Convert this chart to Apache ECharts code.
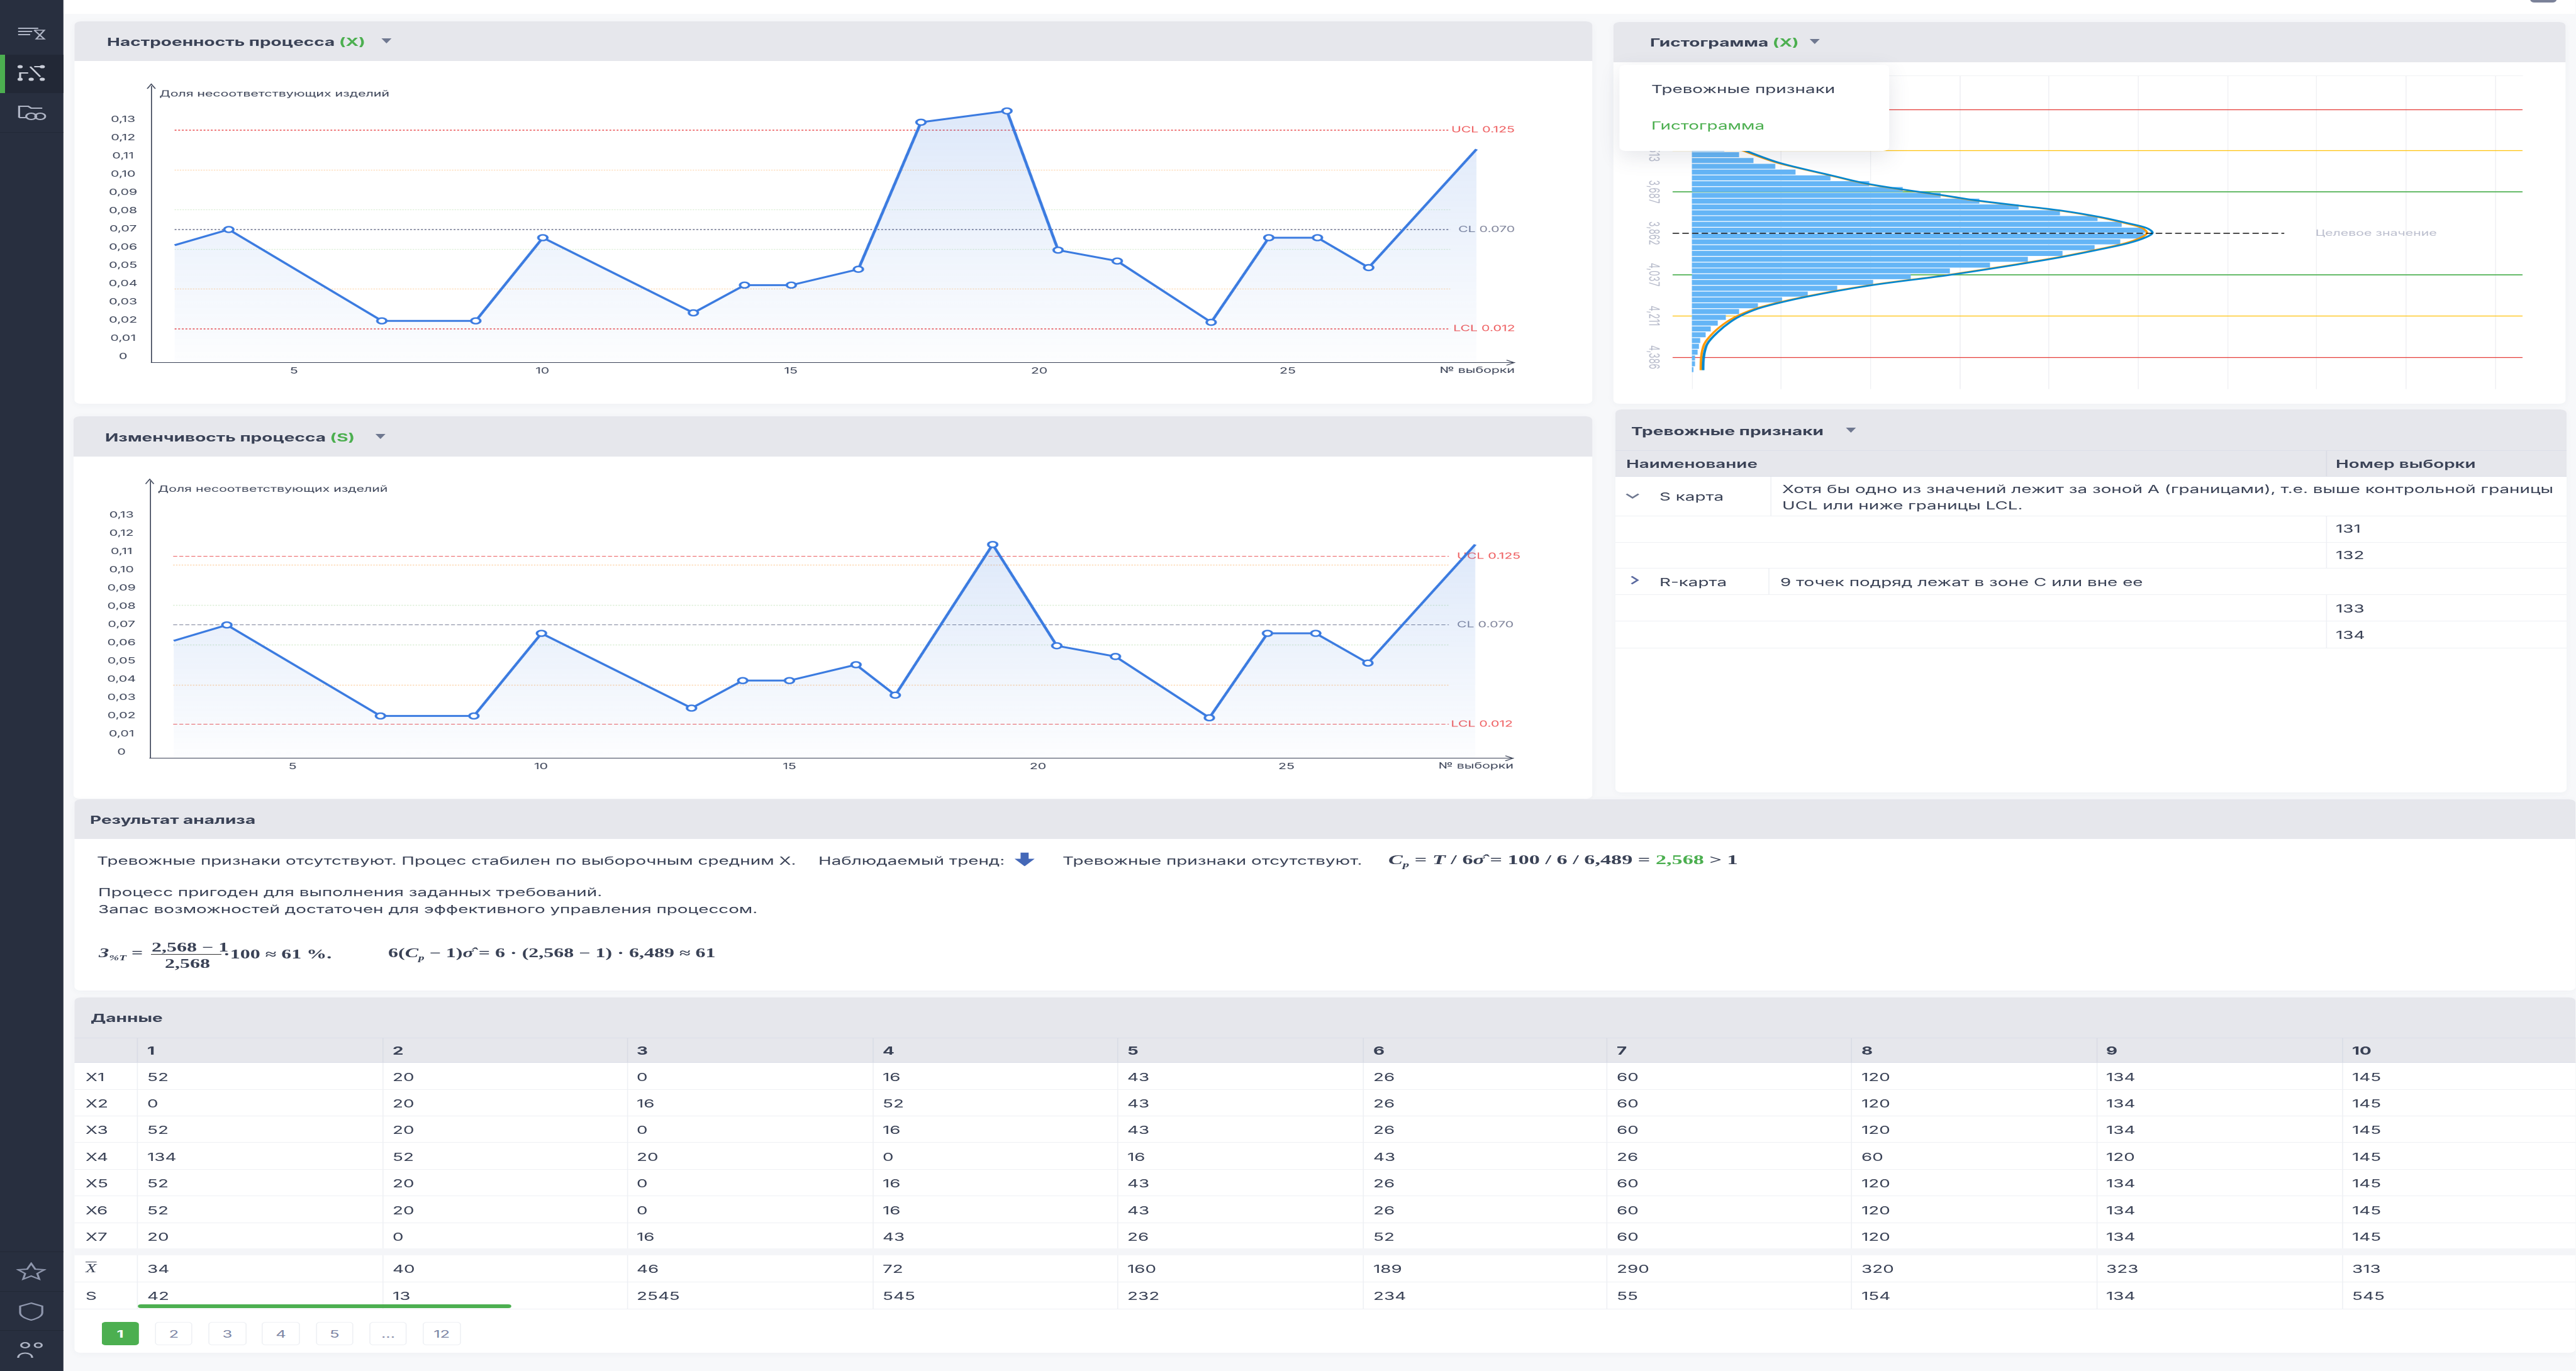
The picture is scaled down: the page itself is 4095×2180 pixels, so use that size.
<!DOCTYPE html>
<html lang="ru"><head><meta charset="utf-8"><title>Контрольные карты</title>
<script src="https://cdn.jsdelivr.net/npm/echarts@6/dist/echarts.min.js"></script>
<style>
html,body{margin:0;padding:0;width:4095px;height:2180px;overflow:hidden;background:#f7f8fa}
#page{position:absolute;left:0;top:0;height:2180px;transform-origin:0 0;font-family:Inter,"Noto Sans",sans-serif;color:#3a4256;font-size:17.4px;overflow:hidden}
#chart{position:absolute;left:0;top:0;width:100%;height:2180px;z-index:2}
.b{position:absolute;box-sizing:border-box}
.t{position:absolute;white-space:nowrap;transform:translateY(-50%);line-height:1.2}
.layer{position:absolute;left:0;top:0;width:100%;height:100%}
</style></head><body><div id="page"><div id="under" class="layer" style="z-index:1"></div><div id="chart"></div><div id="over" class="layer" style="z-index:3;pointer-events:none"></div></div>
<script>
// ---------- chart data ----------
const sampleTicks=[5,10,15,20,25];
const shareTicks=[0,0.01,0.02,0.03,0.04,0.05,0.06,0.07,0.08,0.09,0.10,0.11,0.12,0.13];
const setupX=[2.6,3.69,6.77,8.66,10.01,13.04,14.07,15.01,16.36,17.62,19.35,20.38,21.57,23.46,24.62,25.6,26.63,28.8];
const setupY=[0.0611,0.0697,0.0196,0.0196,0.0652,0.0240,0.0392,0.0392,0.0479,0.1285,0.1347,0.0584,0.0524,0.0188,0.0652,0.0652,0.0488,0.1137];
const varX=[2.61,3.68,6.77,8.65,10.01,13.03,14.06,15.0,16.34,17.13,19.09,20.38,21.56,23.45,24.62,25.59,26.64,28.8];
const varY=[0.0611,0.0698,0.0199,0.0199,0.0652,0.0242,0.0393,0.0393,0.0480,0.0313,0.1139,0.0584,0.0525,0.0189,0.0652,0.0652,0.0489,0.1139];
const setupLevels=[0.1243,0.1024,0.0806,0.0697,0.0588,0.0370,0.0153];
const varLevels=[0.1074,0.1026,0.0807,0.0698,0.0589,0.0370,0.0154];
const levelNames=['UCL 0.125','','','CL 0.070','','','LCL 0.012'];
const histBars=[0.2,0.36,0.36,0.65,0.8,0.95,1.55,2.1,2.9,3.63,5.29,6.91,9.35,11.62,15.54,19.89,23.63,27.88,32.23,36.62,41.26,45.47,48.17,50.79,50.72,48.02,45.14,41.55,37.66,33.42,28.92,24.53,20.32,16.29,12.99,10.11,7.41,5.29,3.81,2.91,2.12,1.55,0.94,0.79,0.65,0.36,0.36,0.18];
const histTicks=[3.338,3.513,3.687,3.862,4.037,4.211,4.386];
const histLimits=[3.338,3.513,3.687,4.037,4.211,4.386];
const histLimitColors=['#e53935','#ffc107','#66bb6a','#66bb6a','#ffc107','#e53935'];
const histTarget=3.862;
const histGrid=[0,10,20,30,40,50,60,70,80,90];
const curveBlueX=[1.26,1.33,1.73,2.88,3.96,6.12,9.35,11.51,15.47,20.14,28.78,31.65,36.69,41.55,45.68,48.92,50.9,51.62,50.9,48.92,45.68,41.55,36.69,28.78,20.14,12.95,7.91,5.76,4.32,2.88,1.73,1.33,1.26];
const curveBlueY=[3.279,3.332,3.390,3.439,3.479,3.514,3.559,3.581,3.616,3.656,3.705,3.722,3.745,3.767,3.793,3.820,3.839,3.860,3.879,3.904,3.931,3.962,3.993,4.039,4.082,4.130,4.175,4.206,4.237,4.281,4.330,4.387,4.441];
const curveOrangeX=[1.0,1.05,1.4,2.5,3.6,5.8,9.1,11.3,15.3,19.9,28.5,31.4,36.4,41.3,45.4,48.6,50.4,51.0,50.4,48.6,45.4,41.3,36.4,28.5,19.9,12.7,7.6,5.4,3.9,2.45,1.4,1.05,1.0];
// ---------- table data ----------
const dataCols=['1','2','3','4','5','6','7','8','9','10'];
const rowX1=[52,20,0,16,43,26,60,120,134,145];
const rowX2=[0,20,16,52,43,26,60,120,134,145];
const rowX3=[52,20,0,16,43,26,60,120,134,145];
const rowX4=[134,52,20,0,16,43,26,60,120,145];
const rowX5=[52,20,0,16,43,26,60,120,134,145];
const rowX6=[52,20,0,16,43,26,60,120,134,145];
const rowX7=[20,0,16,43,26,52,60,120,134,145];
const rowMean=[34,40,46,72,160,189,290,320,323,313];
const rowS=[42,13,2545,545,232,234,55,154,134,545];
const pages=['1','2','3','4','5','...','12'];

// ---------- page frame ----------
const K=1.6, W=4095/K;
const page=document.getElementById('page');
page.style.width=W+'px'; page.style.transform='scaleX('+K+')';
const under=document.getElementById('under'), over=document.getElementById('over');
function box(p,x0,y0,x1,y1,css){const d=document.createElement('div');d.className='b';
 d.style.cssText='left:'+x0/K+'px;top:'+y0+'px;width:'+(x1-x0)/K+'px;height:'+(y1-y0)+'px;'+(css||'');p.appendChild(d);return d;}
function txt(p,x,y,h,css){const d=document.createElement('div');d.className='t';
 d.style.cssText='left:'+x/K+'px;top:'+y+'px;'+(css||'');d.innerHTML=h;p.appendChild(d);return d;}
const HEAD='#e6e7ec', BOLD='font-weight:600;', GREEN='#4caf50';
function tri(p,x,y){const d=box(p,x-8,y-4,x+8,y+4,'');d.style.cssText+='width:0;height:0;border-left:5.2px solid transparent;border-right:5.2px solid transparent;border-top:8px solid #6f7890;';}
function panel(x0,y0,yh,y1,x1,title,tx,ty,tr){
 box(under,x0,y0,x1,y1,'background:#fff;border-radius:6px;box-shadow:0 2px 8px rgba(60,70,100,.04)');
 box(under,x0,y0,x1,yh,'background:'+HEAD+';border-radius:6px 6px 0 0');
 txt(over,tx,ty,title,'font-weight:700;font-size:17.5px;color:#3a4256');
 if(tr) tri(over,tr,ty-1);
}
// sidebar + top strip
box(under,0,0,4095,22,'background:#fff');
box(under,0,0,101,2180,'background:#282f3f');
box(under,0,87,101,148,'background:#222836');
box(under,0,87,8,148,'background:'+GREEN);
box(under,0,210,101,211,'background:#222836');
box(under,0,1990,101,1991,'background:#222836');
box(under,0,2053,101,2054,'background:#222836');
box(under,0,2115,101,2116,'background:#222836');
box(under,4022,0,4064,4,'background:#7b8299;border-radius:0 0 4px 4px');
const sideIcons=[
 [50,55,'<path d="M2 5H22M2 10H16M2 15H14" stroke="#aeb4c4" stroke-width="2"/><path d="M18 8H28L20 22H28L18 8M18 22" fill="none" stroke="#aeb4c4" stroke-width="1.6"/>'],
 [50,117,'<circle cx="4" cy="4" r="2.6" fill="#c9cdd8"/><circle cx="26" cy="4" r="2.6" fill="#c9cdd8"/><circle cx="4" cy="24" r="2.6" fill="#c9cdd8"/><circle cx="15" cy="24" r="2.6" fill="#c9cdd8"/><circle cx="26" cy="24" r="2.6" fill="#c9cdd8"/><path d="M4 24V14H12M14 4L24 20M18 4H26" stroke="#c9cdd8" stroke-width="2" fill="none"/>'],
 [50,180,'<path d="M3 22H10M3 22V4H12L15 7H26" stroke="#aeb4c4" stroke-width="2" fill="none"/><circle cx="15" cy="20" r="5" fill="none" stroke="#aeb4c4" stroke-width="2"/><circle cx="24" cy="20" r="5" fill="none" stroke="#aeb4c4" stroke-width="2"/>'],
 [50,2022,'<path d="M15 2L19 11L28 12L21 18L23 27L15 22L7 27L9 18L2 12L11 11Z" fill="none" stroke="#8f97ad" stroke-width="2"/>'],
 [50,2085,'<path d="M15 2L26 7V17C26 23 20 27 15 29C10 27 4 23 4 17V7Z" fill="none" stroke="#8f97ad" stroke-width="2"/>'],
 [50,2147,'<circle cx="9" cy="7" r="4" fill="none" stroke="#aeb4c4" stroke-width="2"/><circle cx="22" cy="7" r="3.5" fill="none" stroke="#aeb4c4" stroke-width="2"/><path d="M2 27C2 17 16 17 16 27" fill="none" stroke="#aeb4c4" stroke-width="2"/>']
];
sideIcons.forEach(s=>{const d=document.createElement('div');d.className='b';
 d.style.cssText='left:'+(s[0]-24)/K+'px;top:'+(s[1]-15)+'px;width:30px;height:30px';
 d.innerHTML='<svg width="30" height="30" viewBox="0 0 30 30">'+s[2]+'</svg>';over.appendChild(d);});

const g='<span style="color:'+GREEN+'">';
panel(119,34,97,642,2531,'Настроенность процесса '+g+'(X)</span>',170,66,615);
panel(2565,35,99,642,4078,'Гистограмма '+g+'(X)</span>',2623,67,2885);
panel(116,662,726,1270,2531,'Изменчивость процесса '+g+'(S)</span>',167,695,605);
panel(2568,651,716,1260,4080,'Тревожные признаки',2593,685,2943);
panel(118,1271,1334,1575,4095,'Результат анализа',143,1303);
panel(118,1586,1650,2151,4095,'Данные',144,1618);

// dropdown
box(over,2574,103,3003,240,'background:#fff;border-radius:6px;box-shadow:0 10px 26px rgba(60,70,100,.13)');
txt(over,2625,142,'Тревожные признаки','color:#3a4256');
txt(over,2625,200,'Гистограмма','color:'+GREEN);

// alarm table
const LINE='#eef0f4';
box(over,2568,716,4080,758,'background:'+HEAD+';border-top:1.5px solid #dcdfe8;border-bottom:1.5px solid #dcdfe8');
box(over,3697,716,3698,758,'background:#d9dce5');
txt(over,2585,738,'Наименование',BOLD);
txt(over,3713,738,'Номер выборки',BOLD);
const rowEdges=[820,862,903,945,987,1030];
rowEdges.forEach(y=>box(over,2568,y,4080,y+1,'background:'+LINE));
box(over,2815,758,2816,820,'background:'+LINE);
box(over,2811,903,2812,945,'background:'+LINE);
[[820,862],[862,903],[945,987],[987,1030]].forEach(r=>box(over,3697,r[0],3698,r[1],'background:'+LINE));
txt(over,2583,788,'<svg width="16" height="10" viewBox="0 0 16 10"><path d="M2 2L8 8L14 2" fill="none" stroke="#6f7890" stroke-width="2.2"/></svg>');
txt(over,2590,925,'<svg width="10" height="16" viewBox="0 0 10 16"><path d="M2 2L8 8L2 14" fill="none" stroke="#5b6aa0" stroke-width="2.2"/></svg>');
txt(over,2638,790,'S карта');
txt(over,2638,926,'R-карта');
txt(over,2833,778,'Хотя бы одно из значений лежит за зоной А (границами), т.е. выше контрольной границы');
txt(over,2833,804,'UCL или ниже границы LCL.');
txt(over,2830,926,'9 точек подряд лежат в зоне С или вне ее');
[[841,'131'],[883,'132'],[968,'133'],[1010,'134']].forEach(r=>txt(over,3713,r[0],r[1]));

// analysis text
const serif='font-family:"Liberation Serif",serif;';
txt(over,154,1369,'Тревожные признаки отсутствуют. Процес стабилен по выборочным средним X.');
txt(over,1301,1369,'Наблюдаемый тренд:');
txt(over,1612,1369,'<svg width="20" height="22" viewBox="0 0 20 22"><path d="M6 0H14V10H20L10 22L0 10H6Z" fill="#4468b8"/></svg>');
txt(over,1689,1369,'Тревожные признаки отсутствуют.');
txt(over,2207,1369,'<b><i>C<sub style="font-size:13px">p</sub></i> = <i>T</i> / 6<i>σ̂</i> = 100 / 6 / 6,489 = <span style="color:'+GREEN+'">2,568</span> &gt; 1</b>',serif+'font-size:21.4px;');
txt(over,156,1419,'Процесс пригоден для выполнения заданных требований.');
txt(over,156,1446,'Запас возможностей достаточен для эффективного управления процессом.');
const f=serif+'font-size:20px;font-weight:700;';
txt(over,157,1517,'<i>З<sub style="font-size:12px">%T</sub></i> =',f);
txt(over,241,1506,'2,568 − 1',f);
box(over,240,1517,352,1518,'background:#333');
txt(over,262,1532,'2,568',f);
txt(over,355,1517,'·100 ≈ 61 %.',f);
txt(over,617,1517,'6(<i>C<sub style="font-size:12px">p</sub></i> − 1)<i>σ̂</i> = 6 · (2,568 − 1) · 6,489 ≈ 61',f);

// data table
const colEdges=[118,218,608,996,1387,1776,2167,2554,2943,3332,3723,4095];
const rowTop=[1690,1732,1774,1816,1859,1901,1944,1985];
box(over,118,1650,4095,1690,'background:'+HEAD+';border-top:1.5px solid #dcdfe8;border-bottom:1.5px solid #dcdfe8');
box(over,118,1985,4095,1996,'background:#f4f5f8');
colEdges.slice(1,-1).forEach(x=>{box(over,x,1650,x+1,1690,'background:#d9dce5');box(over,x,1690,x+1,1985,'background:'+LINE);box(over,x,1996,x+1,2081,'background:'+LINE);});
rowTop.slice(1,-1).forEach(y=>box(over,118,y,4095,y+1,'background:'+LINE));
box(over,118,2038,4095,2039,'background:'+LINE);box(over,118,2081,4095,2082,'background:'+LINE);
dataCols.forEach((c,i)=>txt(over,colEdges[i+1]+16,1671,c,'font-weight:700;'));
const dataRows=[rowX1,rowX2,rowX3,rowX4,rowX5,rowX6,rowX7];
dataRows.forEach((r,j)=>{const y=(rowTop[j]+rowTop[j+1])/2+2;
 txt(over,136,y,'X'+(j+1));
 r.forEach((v,i)=>txt(over,colEdges[i+1]+16,y,String(v)));});
txt(over,136,2018,'<i style="text-decoration:overline">X</i>',serif+'font-size:18px;');
rowMean.forEach((v,i)=>txt(over,colEdges[i+1]+16,2018,String(v)));
txt(over,136,2061,'S');
rowS.forEach((v,i)=>txt(over,colEdges[i+1]+16,2061,String(v)));
box(over,219,2074,812,2080,'background:'+GREEN+';border-radius:3px');
pages.forEach((p,i)=>{const x=161+85.2*i;
 const d=box(over,x,2102,x+60,2139,i==0?'background:'+GREEN+';border-radius:4px':'background:#fff;border:1px solid #eef0f4;border-radius:4px');
 d.style.display='flex';d.style.alignItems='center';d.style.justifyContent='center';
 d.style.color=i==0?'#fff':'#7b84a3';d.style.fontWeight=i==0?'700':'400';d.style.fontSize='16px';d.textContent=p;});

// ---------- charts ----------
const AXIS='#3a4256', BLUE='#3b7be0', FS=13.3;
const arrow='path://M0 9.2L5 0L10 9.2L9 10L5 2.6L1 10Z';
function lvlColor(i){return [ '#ec5f61','#fdd5ab','#d9edd3','#7d8299','#d9edd3','#fdd5ab','#ec5f61'][i];}
function lineGridParts(idx,top,bottom,left,right,xMin,xMax,yMin,X,Y,levels,labelDist,levelW,levelT,xEnd,xStart){
 const data=X.map((x,i)=>{const it={value:[x,Y[i]]};if(i==0||i==X.length-1)it.symbol='none';return it;});
 return {
  grid:{left:left/K,width:(right-left)/K,top:top,height:bottom-top},
  xAxis:{gridIndex:idx,type:'value',min:xMin,max:xMax,name:'№ выборки',nameLocation:'end',nameGap:0,
   nameTextStyle:{align:'right',verticalAlign:'top',fontFamily:'Inter',fontSize:FS,color:AXIS,padding:[6,0,0,0]},
   axisLine:{show:true,onZero:false,lineStyle:{color:AXIS,width:1},symbol:['none',arrow],symbolSize:[9,9],symbolOffset:[0,-4]},
   axisTick:{show:false,customValues:sampleTicks},splitLine:{show:false},
   axisLabel:{customValues:sampleTicks,fontFamily:'Inter',fontSize:FS,color:AXIS,margin:7,formatter:v=>String(v)}},
  yAxis:{gridIndex:idx,type:'value',min:yMin,max:yMin+(bottom-top)/2900,name:'Доля несоответствующих изделий',nameLocation:'end',nameGap:-6,
   nameTextStyle:{align:'left',verticalAlign:'top',fontFamily:'Inter',fontSize:FS,color:AXIS,padding:[0,0,0,8]},
   axisLine:{show:true,onZero:false,lineStyle:{color:AXIS,width:1},symbol:['none',arrow],symbolSize:[9,9]},
   axisTick:{show:false,customValues:shareTicks},splitLine:{show:false},
   axisLabel:{customValues:shareTicks,align:'center',margin:28,fontFamily:'Inter',fontSize:FS,color:AXIS,
    formatter:v=>v==0?'0':v.toFixed(2).replace('.',',')}},
  series:{type:'line',name:'s'+idx,xAxisIndex:idx,yAxisIndex:idx,data:data,symbol:'circle',symbolSize:9,showSymbol:true,
   lineStyle:{color:BLUE,width:3},itemStyle:{color:'#fff',borderColor:BLUE,borderWidth:2.4},animation:false,z:4,
   areaStyle:{origin:'start',color:{type:'linear',x:0,y:0,x2:0,y2:1,colorStops:[{offset:0,color:'rgba(59,123,224,0.24)'},{offset:1,color:'rgba(59,123,224,0.015)'}]}},
   markLine:{silent:true,symbol:'none',animation:false,z:3,data:levels.map((v,i)=>[
    {coord:[xStart,v],lineStyle:{type:levelT(i),width:levelW(i),color:lvlColor(i)},
     label:{show:!!levelNames[i],position:'end',distance:labelDist[i],formatter:levelNames[i],fontFamily:'Inter',fontSize:FS,color:i==3?'#7d8299':'#ee5a5c'}},
    {coord:[xEnd,v]}])}}
 };
}
const a=lineGridParts(0,137,576.6,240.5,2408,2.13,29.57,-0.0033,setupX,setupY,setupLevels,[1,0,0,8,0,0,3],i=>(i==0||i==3||i==6)?1.8:1.3,i=>'dotted',28.27,2.6);
const b=lineGridParts(1,765.3,1205.7,238,2406,2.127,29.57,-0.0033,varX,varY,varLevels,[8,0,0,8,0,0,2],i=>(i==1||i==2||i==4||i==5)?1.4:1,i=>(i==1||i==2||i==4||i==5)?'dotted':'dashed',28.27,2.6);

const histBins=histBars.map((_,i)=>String(i+1));
const hLeft=2659,hRight=4010,hxMin=-2.15,hxMax=93.1;
const option={
 animation:false,
 textStyle:{fontFamily:'Inter'},
 grid:[a.grid,b.grid,
  {left:hLeft/K,width:(hRight-hLeft)/K,top:120,height:498.7},
  {left:hLeft/K,width:(hRight-hLeft)/K,top:149,height:443.3}],
 xAxis:[a.xAxis,b.xAxis,
  {gridIndex:2,type:'value',position:'top',min:hxMin,max:hxMax,axisLine:{show:true,onZero:false,lineStyle:{color:'#f0f1f4'}},
   axisTick:{show:false,customValues:histGrid},axisLabel:{show:false},splitLine:{show:true,lineStyle:{color:'#f0f1f4',width:1}}},
  {gridIndex:3,type:'value',min:hxMin,max:hxMax,show:false}],
 yAxis:[a.yAxis,b.yAxis,
  {gridIndex:2,type:'value',inverse:true,min:3.195,max:4.521,axisLine:{show:false},axisTick:{show:false,customValues:histTicks},splitLine:{show:false},
   axisLabel:{customValues:histTicks,rotate:-90,margin:12,fontFamily:'Inter',fontSize:14,color:'#b5b9c9',formatter:v=>v.toFixed(3).replace('.',',')}},
  {gridIndex:3,type:'category',inverse:true,data:histBins,show:false}],
 series:[a.series,b.series,
  {type:'line',name:'Границы',xAxisIndex:2,yAxisIndex:2,data:[],z:1,
   markLine:{silent:true,symbol:'none',animation:false,z:1,label:{show:false},
    data:histLimits.map((v,i)=>[{coord:[hxMin,v],lineStyle:{type:'solid',width:(i==2||i==3)?2:1.2,color:histLimitColors[i]}},{coord:[hxMax,v]}])}},
  {type:'bar',name:'Гистограмма',xAxisIndex:3,yAxisIndex:3,data:histBars,barWidth:8,itemStyle:{color:'#64b5f6'},z:3},
  {type:'line',name:'Кривая 2',xAxisIndex:2,yAxisIndex:2,data:curveOrangeX.map((x,i)=>[x,curveBlueY[i]]),smooth:0.35,showSymbol:false,lineStyle:{color:'#ff9800',width:2.4},z:5},
  {type:'line',name:'Кривая 1',xAxisIndex:2,yAxisIndex:2,data:curveBlueX.map((x,i)=>[x,curveBlueY[i]]),smooth:0.35,showSymbol:false,lineStyle:{color:'#0288d1',width:2.6},z:6,
   markLine:{silent:true,symbol:'none',animation:false,z:7,
    data:[[{coord:[hxMin,histTarget],lineStyle:{type:'dashed',width:1.6,color:'#111'},
      label:{show:true,position:'end',distance:[31,-3],formatter:'Целевое значение',fontFamily:'Inter',fontSize:13.3,color:'#b9bccc'}},{coord:[66.4,histTarget]}]]}}
 ]
};
const chart=echarts.init(document.getElementById('chart'),null,{renderer:'canvas',devicePixelRatio:2,width:W,height:2180});
chart.setOption(option);
</script></body></html>
